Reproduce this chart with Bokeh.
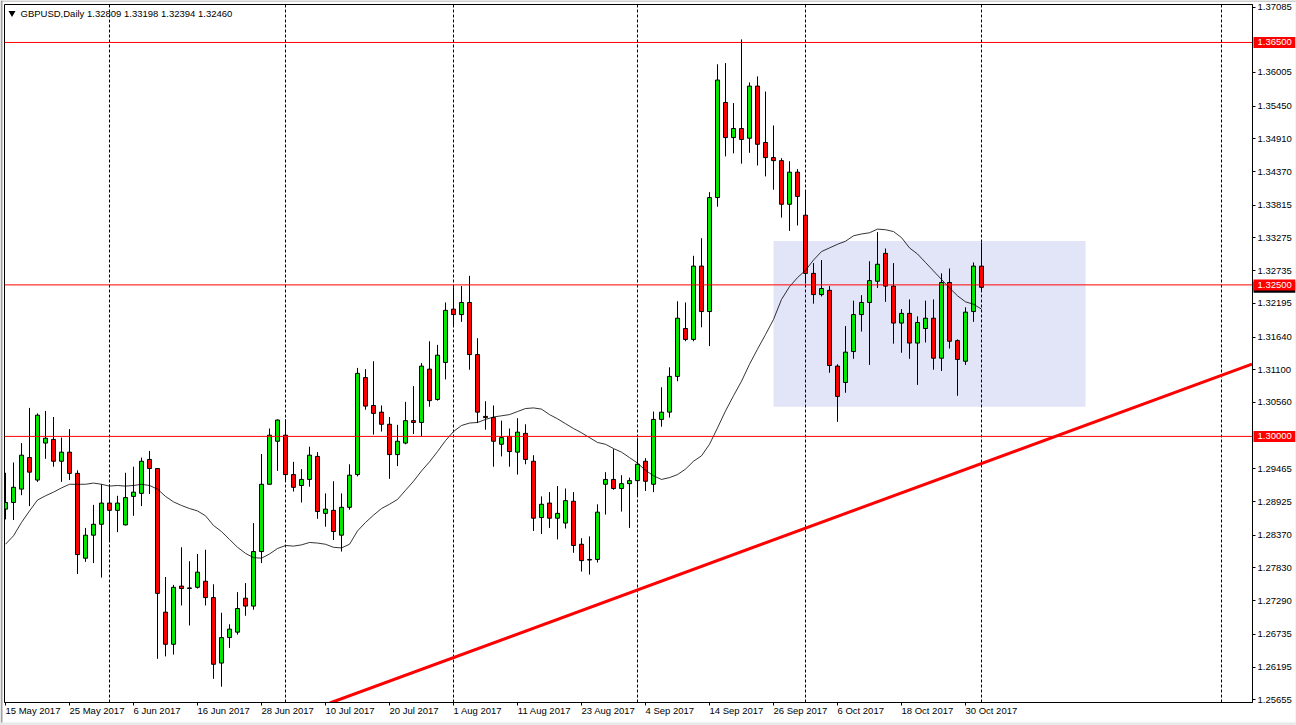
from bokeh.plotting import figure
from bokeh.layouts import column
from bokeh.core.properties import value
from bokeh.models import (Range1d, FixedTicker, LinearAxis, Span,
                          PrintfTickFormatter, ColumnDataSource)
from bokeh.embed import file_html
from bokeh.resources import INLINE
import numpy as np

# prices in units of 0.0001 (GBPUSD daily)
highs = [12940,12957,12989,13047,13038,13042,13032,12998,13012,12944,
12849,12887,12921,12921,12902,12940,12950,12965,12976,12947,
12768,12755,12817,12794,12806,12813,12756,12709,12690,12743,
12758,12857,12971,13013,13028,13028,12958,12946,12983,12974,
12906,12926,12906,12954,13113,13111,13124,13051,13032,13019,
13057,13083,13121,13157,13151,13221,13246,13248,13265,13162,
13058,13051,13026,13013,13030,13020,12969,12901,12908,12918,
12914,12908,12832,12835,12888,12941,12979,12936,12932,12997,
12964,13041,13081,13114,13223,13221,13298,13327,13403,13614,
13616,13550,13655,13584,13594,13569,13513,13459,13454,13441,
13404,13286,13291,13248,13119,13182,13224,13233,13289,13337,
13310,13286,13210,13226,13198,13224,13226,13269,13277,13160,
13213,13287,13319.8]

lows = [12863,12862,12903,12885,12925,12963,12950,12925,12928,12773,
12793,12791,12767,12826,12842,12853,12869,12885,12905,12633,
12637,12640,12721,12688,12749,12721,12600,12587,12651,12673,
12704,12714,12791,12921,12943,12926,12909,12891,12917,12864,
12851,12829,12810,12879,12934,13044,13003,13008,12930,12951,
12987,13004,13000,13049,13059,13094,13183,13189,13110,13022,
13011,12950,12967,12950,12937,12954,12844,12839,12849,12830,
12848,12808,12777,12772,12792,12871,12912,12876,12849,12902,
12910,12908,13016,13031,13091,13157,13157,13180,13149,13379,
13462,13467,13450,13468,13447,13429,13407,13361,13339,13348,
13252,13219,13231,13105,13024,13072,13128,13173,13118,13245,
13222,13153,13138,13128,13085,13155,13110,13108,13145,13067,
13118,13189,13239.4]

opens = [12880,12891,12913,12965,12928,12989,12995,12959,12974,12939,
12799,12837,12855,12890,12878,12854,12901,12906,12962,12947,
12710,12657,12753,12750,12751,12761,12734,12626,12668,12677,
12733,12720,12810,12921,12992,13002,12937,12919,12929,12967,
12873,12878,12837,12883,12937,13097,13051,13040,13020,12970,
12989,13026,13023,13111,13061,13122,13210,13201,13221,13135,
13033,13031,12987,13000,12974,13005,12959,12866,12890,12865,
12857,12893,12822,12797,12797,12921,12929,12914,12922,12927,
12959,12921,13028,13040,13099,13178,13160,13281,13206,13394,
13551,13493,13508,13492,13578,13485,13460,13455,13383,13436,
13365,13269,13234,13241,13116,13089,13140,13201,13221,13256,
13302,13248,13187,13203,13154,13178,13195,13129,13254,13158,
13124,13206,13280.9]

closes = [12891,12916,12969,12941,13035,12997,12959,12974,12939,12805,
12837,12855,12890,12878,12890,12899,12908,12959,12947,12741,
12657,12751,12749,12749,12776,12734,12624,12668,12682,12716,
12720,12810,12921,13002,13027,12937,12916,12929,12969,12876,
12880,12843,12883,12936,13104,13050,13038,13020,12970,12992,
13026,13023,13116,13059,13134,13208,13201,13221,13135,13040,
13031,12992,12998,12975,13007,12962,12865,12888,12865,12873,
12894,12820,12795,12796,12875,12929,12914,12922,12927,12954,
12926,13028,13040,13099,13195,13160,13281,13206,13394,13588,
13493,13508,13490,13578,13482,13460,13455,13383,13436,13396,
13269,13234,13244,13117,13066,13139,13201,13221,13257,13284,
13248,13187,13203,13154,13188,13195,13129,13254,13157,13127,
13205,13281,13246.0]

moving_average = [12822,12836,12858,12877,12895,12902,12908,12915,12921,12921,
12921,12923,12921,12918,12919,12918,12919,12921,12919,12913,
12901,12892,12886,12881,12877,12869,12853,12843,12830,12817,
12807,12800,12799,12806,12815,12820,12819,12821,12825,12824,
12822,12817,12816,12822,12844,12858,12870,12881,12888,12896,
12911,12926,12943,12958,12975,12993,13008,13018,13022,13023,
13028,13032,13034,13036,13041,13046,13047,13045,13036,13029,
13021,13013,13006,12998,12990,12987,12980,12974,12965,12956,
12944,12935,12929,12932,12937,12946,12959,12968,12987,13014,
13042,13067,13091,13119,13144,13168,13193,13226,13247,13262,
13274,13291,13305,13311,13317,13322,13331,13334,13336,13342,
13341,13338,13328,13311,13301,13287,13273,13259,13245,13232,
13222,13218,13210]

date_ticks = [0,8,16,24,32,40,48,56,64,72,80,88,96,104,112,120]
date_labels = ["15 May 2017","25 May 2017","6 Jun 2017","16 Jun 2017","28 Jun 2017","10 Jul 2017",
               "20 Jul 2017","1 Aug 2017","11 Aug 2017","23 Aug 2017","4 Sep 2017","14 Sep 2017",
               "26 Sep 2017","6 Oct 2017","18 Oct 2017","30 Oct 2017"]
price_ticks = [1.37085,1.36005,1.35450,1.34910,1.34370,1.33815,1.33275,1.32735,1.32195,1.31640,
               1.31100,1.30560,1.29465,1.28925,1.28370,1.27830,1.27290,1.26735,1.26195,1.25655]
month_separators = [13,35,56,79,100,122,152]
levels = [1.36500,1.32500,1.30000]
last_price = 1.32460
box_x = [96,135]
box_y = [1.30490,1.33224]
trend_x = [40.56,155.81]
trend_y = [1.25601,1.31194]
header = "GBPUSD,Daily  1.32809 1.33198 1.32394 1.32460"

FONT = "Liberation Sans"
FS_PX = 9.5
FS = f"{FS_PX}px"
GREEN = "#00E800"
RED = "#FF0000"
W, H = 1296, 725
PRICE_PER_PX = 0.000165
PRICE_AT_TOP = 1.371923
def px_price(py):
    return PRICE_AT_TOP - py*PRICE_PER_PX

# glyph widths (em) of the tick-label font, used to start each date label at its tick
GLYPH_EM = {" ":.278,"M":.833,"a":.556,"y":.5,"J":.5,"u":.556,"n":.556,"l":.222,"A":.667,"g":.556,
            "S":.667,"e":.556,"p":.556,"O":.778,"c":.5,"t":.278}
def label_width(s):
    return sum(GLYPH_EM.get(ch, .556) for ch in s)*FS_PX

o, h, l, c = [np.array(a, float)/10000 for a in (opens, highs, lows, closes)]
ma = np.array(moving_average, float)/10000
idx = np.arange(len(o))
colors = [GREEN if ci > oi else RED for oi, ci in zip(o, c)]

ymin, ymax = px_price(702), px_price(4)
p = figure(width=W, height=H, output_backend="svg", toolbar_location=None,
           x_range=Range1d(-0.125, 155.875), y_range=Range1d(ymin, ymax),
           y_axis_location="right", x_axis_location="below",
           min_border_left=4, min_border_right=44, min_border_top=4, min_border_bottom=23,
           background_fill_color="white", border_fill_color="white",
           outline_line_color="black", outline_line_width=1, frame_align=False)
p.grid.visible = False

# y axis
ya = p.yaxis[0]
ya.ticker = FixedTicker(ticks=price_ticks)
ya.formatter = PrintfTickFormatter(format="%.5f")
ya.major_tick_out = 3; ya.major_tick_in = 0; ya.minor_tick_out = 0; ya.minor_tick_in = 0
ya.major_label_standoff = 2
ya.major_label_text_font = FONT; ya.major_label_text_font_size = FS
ya.major_label_text_color = "black"
ya.axis_line_color = "black"; ya.major_tick_line_color = "black"

# x axis: tick marks
xa = p.xaxis[0]
xa.ticker = FixedTicker(ticks=date_ticks)
xa.major_tick_out = 3; xa.major_tick_in = 0; xa.minor_tick_out = 0; xa.minor_tick_in = 0
xa.major_label_overrides = {t: "" for t in date_ticks}
xa.major_label_standoff = 0
xa.axis_line_color = "black"; xa.major_tick_line_color = "black"

# x axis: labels start at their tick, so their centres sit half a label to the right
label_pos = [round(t + label_width(s)/2/8, 4) for t, s in zip(date_ticks, date_labels)]
xb = LinearAxis(ticker=FixedTicker(ticks=label_pos),
                major_label_overrides=dict(zip(label_pos, date_labels)))
xb.axis_line_color = None; xb.major_tick_line_color = None; xb.minor_tick_line_color = None
xb.major_tick_out = 0; xb.major_tick_in = 0; xb.minor_tick_out = 0; xb.minor_tick_in = 0
xb.major_label_standoff = -1
xb.major_label_text_font = FONT; xb.major_label_text_font_size = FS
xb.major_label_text_color = "black"
p.add_layout(xb, "below")

# rectangle object, month separators
p.quad(left=[box_x[0]], right=[box_x[1]], bottom=[box_y[0]], top=[box_y[1]],
       fill_color="#E2E4F8", line_color=None)
p.segment(x0=month_separators, x1=month_separators, y0=ymin, y1=ymax,
          line_color="black", line_width=1, line_dash="3 2")

# candles
src = ColumnDataSource(dict(x=idx, o=o, h=h, l=l, c=c, color=colors,
                            top=np.maximum(o, c), bottom=np.minimum(o, c)))
p.segment(x0="x", x1="x", y0="l", y1="h", source=src, line_color="black", line_width=1)
p.vbar(x="x", width=0.5, top="top", bottom="bottom", source=src,
       fill_color="color", line_color="black", line_width=1)

# moving average
p.line(idx, ma, line_color="black", line_width=0.8)

# levels and trend line
for lv in levels:
    p.add_layout(Span(location=lv, dimension="width", line_color=RED, line_width=1, level="glyph"))
p.line(trend_x, trend_y, line_color=RED, line_width=3)

# transparent sheet over the whole page: price tags in the margin, header, window edges
ov = figure(width=W, height=H, output_backend="svg", toolbar_location=None,
            x_range=Range1d(0, W), y_range=Range1d(px_price(H), px_price(0)),
            x_axis_location=None, y_axis_location=None,
            min_border=0, background_fill_color=None, border_fill_color=None,
            outline_line_color=None, margin=(-H, 0, 0, 0), frame_align=False)
ov.grid.visible = False

def tag(price, color):
    ov.quad(left=[1253], right=[1295], top=[price+5.5*PRICE_PER_PX], bottom=[price-5.5*PRICE_PER_PX],
            fill_color=color, line_color=None)
    ov.text(x=[1257], y=[price], text=[f"{price:.5f}"], text_color="white",
            text_font=value(FONT), text_font_size=value(FS), text_baseline="middle")
tag(last_price, "black")
for lv in levels:
    tag(lv, RED)

ov.scatter(x=[11.5], y=[px_price(12.5)], marker="inverted_triangle", size=7,
           fill_color="black", line_color="black", line_width=0)
ov.text(x=[20], y=[px_price(13)], text=[header], text_color="black",
        text_font=value(FONT), text_font_size=value(FS), text_baseline="middle")

for l_, r_, top_px, bot_px, col in [(0, 2, 0, H, "#A0A0A0"), (0, W, 0, 1, "#A0A0A0"),
                                    (0, W, 722, H, "#E8E8E8"), (1295, W, 0, H, "#E8E8E8")]:
    ov.quad(left=[l_], right=[r_], top=[px_price(top_px)], bottom=[px_price(bot_px)],
            fill_color=col, line_color=None)

page = column(p, ov, spacing=0)
open("out.html", "w").write(file_html(page, INLINE))
